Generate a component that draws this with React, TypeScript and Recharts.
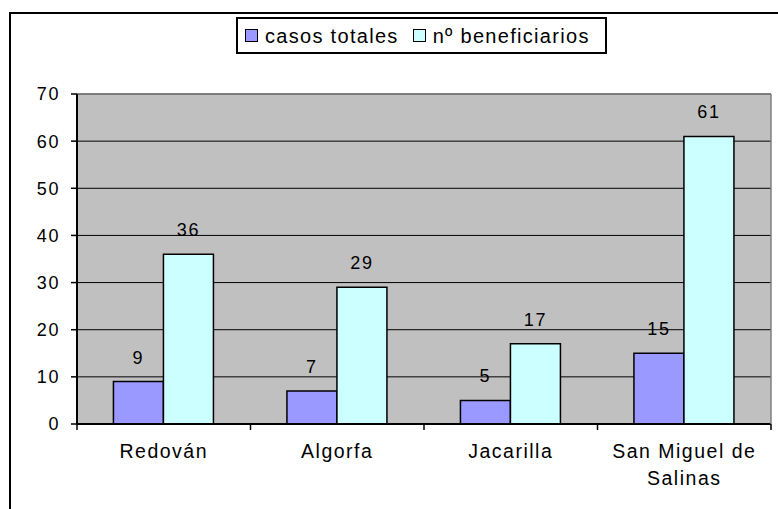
import * as React from 'react';
import { BarChart, Bar, XAxis, YAxis, CartesianGrid, Legend, LabelList, ReferenceLine } from 'recharts';

const categories = ['Redován', 'Algorfa', 'Jacarilla', 'San Miguel de Salinas'];
const categoryLines = [['Redován'], ['Algorfa'], ['Jacarilla'], ['San Miguel de', 'Salinas']];
const casosTotales = [9, 7, 5, 15];
const beneficiarios = [36, 29, 17, 61];
const yTicks = [0, 10, 20, 30, 40, 50, 60, 70];

const FONT = '"Liberation Sans", Arial, sans-serif';

const data = categories.map((name, i) => ({
  name,
  casos: casosTotales[i],
  benef: beneficiarios[i],
}));

// category label plus the small tick marks on the band edges
const CategoryTick = (props: any) => {
  const { x, y, payload, index, visibleTicksCount, width } = props;
  const half = payload.offset || (width && visibleTicksCount ? width / visibleTicksCount / 2 : 0);
  const idx = categories.indexOf(payload.value);
  const lines = idx >= 0 ? categoryLines[idx] : [String(payload.value)];
  return (
    <g>
      <line x1={x - half} x2={x - half} y1={y} y2={y + 6} stroke="#000" strokeWidth={1.5} />
      {index === visibleTicksCount - 1 && (
        <line x1={x + half} x2={x + half} y1={y} y2={y + 6} stroke="#000" strokeWidth={1.5} />
      )}
      <text x={x} y={y + 34} textAnchor="middle" fill="#000" fontSize={19.5} fontFamily={FONT} letterSpacing={1.5}>
        {lines.map((l, i) => (
          <tspan key={i} x={x} dy={i === 0 ? 0 : 27}>{l}</tspan>
        ))}
      </text>
    </g>
  );
};

const LegendBox = (props: any) => {
  const { payload } = props;
  return (
    <div style={{ display: 'flex', alignItems: 'center', height: '100%', paddingLeft: 7, fontFamily: FONT, fontSize: 20, letterSpacing: 1.3, color: '#000' }}>
      {(payload || []).map((entry: any, i: number) => (
        <div key={i} style={{ display: 'flex', alignItems: 'center', marginRight: 14 }}>
          <span style={{ display: 'inline-block', width: 13, height: 13, boxSizing: 'border-box', border: '1.5px solid #000', background: entry.color, marginRight: 7 }} />
          <span style={{ lineHeight: '20px' }}>{entry.value}</span>
        </div>
      ))}
    </div>
  );
};

export default function App() {
  return (
    <div style={{ position: 'absolute', left: 0, top: 0, width: 778, height: 509, overflow: 'hidden', background: '#fff' }}>
      <div style={{ position: 'absolute', left: 9, top: 12, width: 900, height: 700, border: '2px solid #000' }} />
      <div style={{ position: 'absolute', left: 0, top: 0 }}>
        <BarChart
          width={778}
          height={509}
          data={data}
          margin={{ top: 94, right: 6, left: 0, bottom: 0 }}
          barCategoryGap="21%"
          barGap={0}
        >
          <CartesianGrid vertical={false} stroke="#000" fill="#C0C0C0" fillOpacity={1} />
          <XAxis
            dataKey="name"
            height={85}
            interval={0}
            tickSize={0}
            tickMargin={0}
            tickLine={false}
            axisLine={{ stroke: '#000', strokeWidth: 2 }}
            tick={<CategoryTick />}
          />
          <YAxis
            width={77}
            domain={[0, 70]}
            ticks={yTicks}
            interval={0}
            tickSize={6}
            tickMargin={11}
            axisLine={{ stroke: '#000', strokeWidth: 2 }}
            tickLine={{ stroke: '#000', strokeWidth: 1.5 }}
            tick={{ fill: '#000', fontSize: 18, fontFamily: FONT, letterSpacing: 1.6 }}
          />
          <YAxis
            yAxisId="r"
            orientation="right"
            width={1}
            domain={[0, 70]}
            tick={false}
            tickLine={false}
            axisLine={{ stroke: '#808080', strokeWidth: 1.5 }}
          />
          <ReferenceLine y={70} stroke="#808080" strokeWidth={1.5} />
          <Legend
            layout="horizontal"
            verticalAlign="middle"
            align="center"
            content={<LegendBox />}
            wrapperStyle={{ left: 236, top: 17, width: 371, height: 37, border: '2px solid #000', boxSizing: 'border-box', background: '#fff' }}
          />
          <Bar dataKey="casos" name="casos totales" fill="#9999FF" stroke="#000" strokeWidth={1.5} isAnimationActive={false}>
            <LabelList dataKey="casos" position="top" offset={18} fill="#000" fontSize={18} fontFamily={FONT} letterSpacing={1.6} />
          </Bar>
          <Bar dataKey="benef" name="nº beneficiarios" fill="#CCFFFF" stroke="#000" strokeWidth={1.5} isAnimationActive={false}>
            <LabelList dataKey="benef" position="top" offset={18} fill="#000" fontSize={18} fontFamily={FONT} letterSpacing={1.6} />
          </Bar>
        </BarChart>
      </div>
    </div>
  );
}
